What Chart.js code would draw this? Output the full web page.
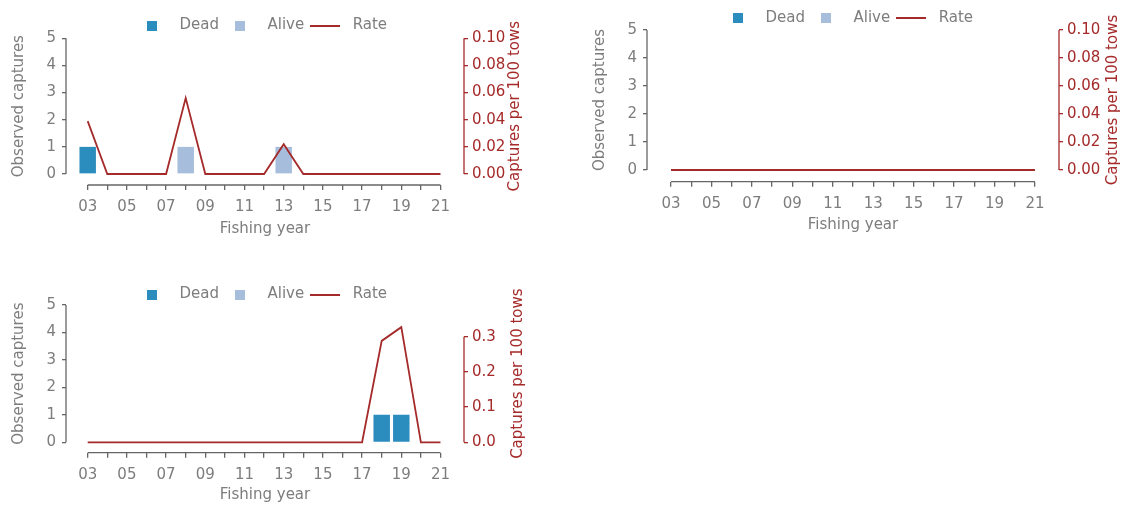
<!DOCTYPE html>
<html><head><meta charset="utf-8">
<script src="https://cdn.jsdelivr.net/npm/chart.js@4/dist/chart.umd.min.js"></script>
<style>
html,body{margin:0;padding:0;background:#fff;width:1121px;height:505px;overflow:hidden;position:relative}
canvas{position:absolute}
</style></head><body>
<canvas id="cA" width="540" height="250" style="left:0;top:0;width:540px;height:250px"></canvas>
<canvas id="cB" width="540" height="245" style="left:581px;top:0;width:540px;height:245px"></canvas>
<canvas id="cC" width="540" height="245" style="left:0;top:260px;width:540px;height:245px"></canvas>
<script>
// ---- data ----
const years = [2003,2004,2005,2006,2007,2008,2009,2010,2011,2012,2013,2014,2015,2016,2017,2018,2019,2020,2021];
const seriesNames = ['Dead', 'Alive', 'Rate'];
const leftTitle = 'Observed captures';
const rightTitle = 'Captures per 100 tows';
const xTitle = 'Fishing year';
const leftTicks = [0, 1, 2, 3, 4, 5];
const rightTicksTop = [0, 0.02, 0.04, 0.06, 0.08, 0.10];
const rightTicksBottom = [0, 0.1, 0.2, 0.3];

// Panel A (top-left)
const deadA  = [1,0,0,0,0,0,0,0,0,0,0,0,0,0,0,0,0,0,0];
const aliveA = [0,0,0,0,0,1,0,0,0,0,1,0,0,0,0,0,0,0,0];
const rateA  = [0.039,0,0,0,0,0.056,0,0,0,0,0.022,0,0,0,0,0,0,0,0];
// Panel B (top-right)
const deadB  = [0,0,0,0,0,0,0,0,0,0,0,0,0,0,0,0,0,0,0];
const aliveB = [0,0,0,0,0,0,0,0,0,0,0,0,0,0,0,0,0,0,0];
const rateB  = [0,0,0,0,0,0,0,0,0,0,0,0,0,0,0,0,0,0,0];
// Panel C (bottom-left)
const deadC  = [0,0,0,0,0,0,0,0,0,0,0,0,0,0,0,1,1,0,0];
const aliveC = [0,0,0,0,0,0,0,0,0,0,0,0,0,0,0,0,0,0,0];
const rateC  = [0,0,0,0,0,0,0,0,0,0,0,0,0,0,0,0.288,0.327,0,0];

// ---- styles ----
const FONT = 'DejaVu Sans';
const GREY = '#7d7d7d';
const SPINE = '#666666';
const RED = '#a52a2a';
const DEAD_C = '#2b8cbe';
const ALIVE_C = '#a6bddb';

Chart.defaults.font.family = FONT;
Chart.defaults.font.size = 15;
Chart.defaults.color = GREY;

function squareImg(color, s) {
  const c = document.createElement('canvas'); c.width = s; c.height = s;
  const g = c.getContext('2d'); g.fillStyle = color; g.fillRect(0, 0, s, s); return c;
}
function lineImg(color, w, h) {
  const c = document.createElement('canvas'); c.width = w; c.height = h;
  const g = c.getContext('2d'); g.fillStyle = color; g.fillRect(0, 0, w, h); return c;
}
const legendImgs = [squareImg(DEAD_C, 10), squareImg(ALIVE_C, 10), lineImg(RED, 30, 2)];

const axisDecor = {
  id: 'axisDecor',
  afterDraw(chart, args, o) {
    const {ctx, chartArea: a, scales: {x, y, y1}} = chart;
    ctx.save();
    ctx.lineWidth = 1.3;
    // left spine
    ctx.strokeStyle = SPINE;
    ctx.beginPath();
    ctx.moveTo(a.left, y.getPixelForValue(leftTicks[0]));
    ctx.lineTo(a.left, y.getPixelForValue(leftTicks[leftTicks.length - 1]));
    ctx.stroke();
    // bottom spine
    ctx.beginPath();
    ctx.moveTo(x.getPixelForValue(years[0]), a.bottom);
    ctx.lineTo(x.getPixelForValue(years[years.length - 1]), a.bottom);
    ctx.stroke();
    // right spine
    ctx.strokeStyle = RED;
    ctx.beginPath();
    ctx.moveTo(a.right, y1.getPixelForValue(o.rightTicks[0]));
    ctx.lineTo(a.right, y1.getPixelForValue(o.rightTicks[o.rightTicks.length - 1]));
    ctx.stroke();
    // vertical titles (read bottom to top)
    const cy = (y.getPixelForValue(leftTicks[0]) + y.getPixelForValue(leftTicks[leftTicks.length - 1])) / 2;
    ctx.font = '15px "' + FONT + '"';
    ctx.textAlign = 'center';
    ctx.textBaseline = 'middle';
    [[leftTitle, a.left + o.leftDx, GREY], [rightTitle, a.right + o.rightDx, RED]].forEach(([t, px, col]) => {
      ctx.save();
      ctx.translate(px, cy);
      ctx.rotate(-Math.PI / 2);
      ctx.fillStyle = col;
      ctx.fillText(t, 0, 0);
      ctx.restore();
    });
    ctx.restore();
  }
};

function makePanel(p) {
  const pts = arr => years.map((yr, i) => ({x: yr, y: arr[i]}));
  new Chart(document.getElementById(p.el), {
    data: {
      datasets: [
        {type: 'bar', label: seriesNames[0], data: pts(p.dead), backgroundColor: DEAD_C, borderWidth: 0,
         stack: 's', yAxisID: 'y', barPercentage: 0.84, categoryPercentage: 1.0, order: 1},
        {type: 'bar', label: seriesNames[1], data: pts(p.alive), backgroundColor: ALIVE_C, borderWidth: 0,
         stack: 's', yAxisID: 'y', barPercentage: 0.84, categoryPercentage: 1.0, order: 1},
        {type: 'line', label: seriesNames[2], data: pts(p.rate), borderColor: RED, backgroundColor: RED,
         borderWidth: 1.8, pointRadius: 0, tension: 0, yAxisID: 'y1', order: 0}
      ]
    },
    options: {
      responsive: false,
      animation: false,
      events: [],
      layout: {padding: p.pad},
      plugins: {
        tooltip: {enabled: false},
        axisDecor: {rightTicks: p.rightTicks, leftDx: p.leftDx, rightDx: p.rightDx},
        legend: {
          position: 'top', align: 'center', maxHeight: p.legendH,
          labels: {
            usePointStyle: true, pointStyleWidth: 40, padding: 1, color: GREY,
            font: {size: 15, family: FONT},
            sort: (a, b) => a.datasetIndex - b.datasetIndex,
            generateLabels: chart => Chart.defaults.plugins.legend.labels.generateLabels(chart)
              .map(it => Object.assign(it, {pointStyle: legendImgs[it.datasetIndex]}))
          }
        }
      },
      scales: {
        x: {
          type: 'linear', stacked: true, offset: false, min: p.xMin, max: p.xMax,
          afterBuildTicks: s => { s.ticks = years.map(v => ({value: v})); },
          afterFit: s => { s.height = p.xH; },
          border: {display: false},
          grid: {offset: false, drawOnChartArea: false, drawTicks: true, tickLength: 5, color: SPINE, lineWidth: 1.3},
          ticks: {autoSkip: false, maxRotation: 0, padding: 8, color: GREY,
                  callback: v => (v % 2 === 1) ? String(v).slice(2) : ''},
          title: {display: true, text: xTitle, color: GREY, font: {size: 15}, padding: {top: 0, bottom: p.xTitlePad}}
        },
        y: {
          type: 'linear', position: 'left', stacked: true, min: p.yMin, max: p.yMax,
          afterBuildTicks: s => { s.ticks = leftTicks.map(v => ({value: v})); },
          afterFit: s => { s.width = p.yW; },
          border: {display: false},
          grid: {drawOnChartArea: false, drawTicks: true, tickLength: 4, color: SPINE, lineWidth: 1.3},
          ticks: {padding: 6, color: GREY, callback: v => String(v)}
        },
        y1: {
          type: 'linear', position: 'right', min: p.yMin * p.k, max: p.yMax * p.k,
          afterBuildTicks: s => { s.ticks = p.rightTicks.map(v => ({value: v})); },
          afterFit: s => { s.width = p.y1W; },
          border: {display: false},
          grid: {drawOnChartArea: false, drawTicks: true, tickLength: 4, color: RED, lineWidth: 1.3},
          ticks: {padding: 4, color: RED, callback: v => Number(v).toFixed(p.digits)}
        }
      }
    },
    plugins: [axisDecor]
  });
}

makePanel({el: 'cA', dead: deadA, alive: aliveA, rate: rateA, rightTicks: rightTicksTop, digits: 2, k: 0.02,
  yMin: -0.405, yMax: 5.085, xMin: 2001.893, xMax: 2022.199,
  pad: {top: 17, right: 21, left: 0, bottom: 0}, legendH: 19, yW: 66, y1W: 55, xH: 65, xTitlePad: 12,
  leftDx: -46.7, rightDx: 50.7});
makePanel({el: 'cB', dead: deadB, alive: aliveB, rate: rateB, rightTicks: rightTicksTop, digits: 2, k: 0.02,
  yMin: -0.418, yMax: 5.054, xMin: 2001.813, xMax: 2022.189,
  pad: {top: 9.5, right: 11, left: 0, bottom: 0}, legendH: 19, yW: 66, y1W: 51, xH: 63.3, xTitlePad: 11,
  leftDx: -47, rightDx: 54.5});
makePanel({el: 'cC', dead: deadC, alive: aliveC, rate: rateC, rightTicks: rightTicksBottom, digits: 1, k: 0.078,
  yMin: -0.379, yMax: 5.036, xMin: 2001.893, xMax: 2022.199,
  pad: {top: 26, right: 21, left: 0, bottom: 0}, legendH: 18, yW: 66, y1W: 55, xH: 52.3, xTitlePad: 1,
  leftDx: -46.7, rightDx: 54});
</script>
</body></html>
